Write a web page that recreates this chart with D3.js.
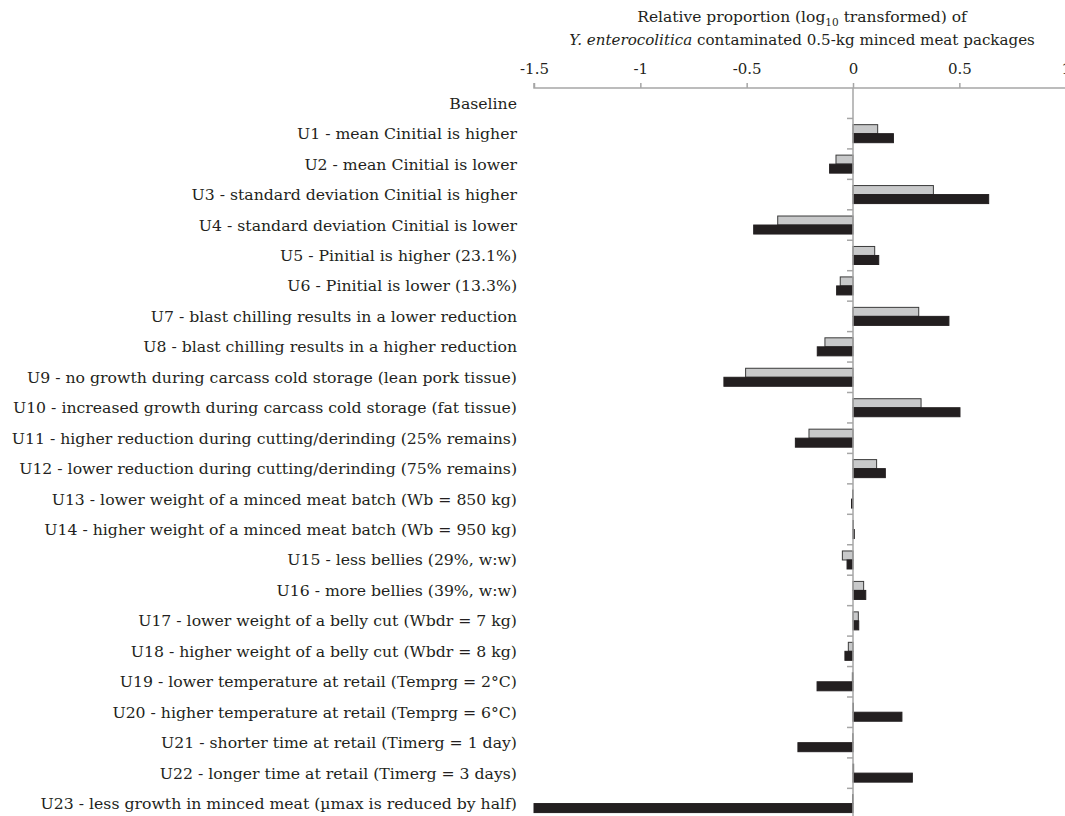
<!DOCTYPE html>
<html>
<head>
<meta charset="utf-8">
<script src="https://cdn.jsdelivr.net/npm/d3@7"></script>
<style>
  body { margin: 0; background: #fff; }
  svg text { font-family: "DejaVu Serif", serif; fill: #231f20; }
</style>
</head>
<body>
<div id="chart"></div>
<script>
const categories = [
  "Baseline",
  "U1 - mean Cinitial is higher",
  "U2 - mean Cinitial is lower",
  "U3 - standard deviation Cinitial is higher",
  "U4 - standard deviation Cinitial is lower",
  "U5 - Pinitial is higher (23.1%)",
  "U6 - Pinitial is lower (13.3%)",
  "U7 - blast chilling results in a lower reduction",
  "U8 - blast chilling results in a higher reduction",
  "U9 - no growth during carcass cold storage (lean pork tissue)",
  "U10 - increased growth during carcass cold storage (fat tissue)",
  "U11 - higher reduction during cutting/derinding (25% remains)",
  "U12 - lower reduction during cutting/derinding (75% remains)",
  "U13 - lower weight of a minced meat batch (Wb = 850 kg)",
  "U14 - higher weight of a minced meat batch (Wb = 950 kg)",
  "U15 - less bellies (29%, w:w)",
  "U16 - more bellies (39%, w:w)",
  "U17 - lower weight of a belly cut (Wbdr = 7 kg)",
  "U18 - higher weight of a belly cut (Wbdr = 8 kg)",
  "U19 - lower temperature at retail (Temprg = 2°C)",
  "U20 - higher temperature at retail (Temprg = 6°C)",
  "U21 - shorter time at retail (Timerg = 1 day)",
  "U22 - longer time at retail (Timerg = 3 days)",
  "U23 - less growth in minced meat (µmax is reduced by half)"
];

// light grey series (upper bar in each row)
const lightValues = [0, 0.116, -0.08, 0.378, -0.354, 0.102, -0.06, 0.309, -0.132, -0.505, 0.32, -0.207, 0.111,
  -0.002, 0.002, -0.05, 0.05, 0.025, -0.022, -0.003, 0.002, -0.001, 0.003, -0.002];
// dark series (lower bar in each row)
const darkValues = [0, 0.19, -0.11, 0.638, -0.467, 0.121, -0.077, 0.451, -0.168, -0.607, 0.503, -0.271, 0.152,
  -0.007, 0.006, -0.028, 0.06, 0.027, -0.038, -0.169, 0.23, -0.259, 0.279, -1.5];

const xTicks = [-1.5, -1, -0.5, 0, 0.5, 1];

const width = 1065, height = 816;
const margin = {top: 88, left: 534};

const svg = d3.select("#chart").append("svg")
  .attr("width", width)
  .attr("height", height);

const x = d3.scaleLinear()
  .domain([-1.5, 1])
  .range([margin.left, margin.left + 2.5 * 212.67]);

const y = d3.scaleBand()
  .domain(categories)
  .range([margin.top, margin.top + 24 * 30.45]);

const series = ["light", "dark"];
const y1 = d3.scaleBand()
  .domain(series)
  .range([0, y.bandwidth()])
  .paddingOuter(0.69);

const rows = categories.map((c, i) => ({cat: c, light: lightValues[i], dark: darkValues[i]}));

// bars
const g = svg.append("g");
rows.forEach(r => {
  series.forEach(s => {
    const v = r[s];
    g.append("rect")
      .attr("x", x(Math.min(0, v)))
      .attr("y", y(r.cat) + y1(s))
      .attr("width", Math.abs(x(v) - x(0)))
      .attr("height", y1.bandwidth())
      .attr("fill", s === "light" ? "#c8c9ca" : "#231f20")
      .attr("stroke", s === "light" ? "#3a3a3a" : "#231f20")
      .attr("stroke-width", 1);
  });
});

// top value axis
const xAxis = svg.append("g")
  .attr("transform", `translate(0,${margin.top})`)
  .call(d3.axisTop(x).tickValues(xTicks).tickSize(5).tickPadding(9).tickFormat(d => String(d)));
xAxis.select(".domain").attr("stroke", "#a6a6a6").attr("stroke-width", 1.5)
  .attr("d", `M${margin.left},-5V0H${width}`);
xAxis.selectAll(".tick line").attr("stroke", "#a6a6a6").attr("stroke-width", 1.5);
xAxis.selectAll(".tick text").style("font-size", "15px").attr("fill", "#231f20");

// category axis on zero line
const bounds = categories.slice(1).map(c => y(c)).concat([y.range()[1]]);
svg.append("g").selectAll("line").data(bounds).join("line")
  .attr("x1", x(0) - 6).attr("x2", x(0))
  .attr("y1", d => d).attr("y2", d => d)
  .attr("stroke", "#a6a6a6").attr("stroke-width", 1.5);
svg.append("line")
  .attr("x1", x(0)).attr("x2", x(0))
  .attr("y1", margin.top).attr("y2", y.range()[1])
  .attr("stroke", "#a6a6a6").attr("stroke-width", 1.5);

// category labels
svg.append("g").attr("class", "labels").selectAll("text").data(categories).join("text")
  .attr("x", 517)
  .attr("y", d => y(d) + y.bandwidth() / 2)
  .attr("dy", "0.35em")
  .attr("text-anchor", "end")
  .style("font-size", "15.7px")
  .text(d => d);

// title
const title = svg.append("text")
  .attr("text-anchor", "middle")
  .attr("x", 802).attr("y", 22)
  .style("font-size", "15.5px")
  .style("font-weight", 500);
title.append("tspan").text("Relative proportion (log");
title.append("tspan").attr("dy", 4).style("font-size", "10.5px").text("10");
title.append("tspan").attr("dy", -4).text(" transformed) of");
const t2 = svg.append("text").attr("text-anchor", "middle").attr("x", 802).attr("y", 45)
  .style("font-size", "15.1px");
t2.append("tspan").style("font-style", "italic").text("Y. enterocolitica");
t2.append("tspan").text(" contaminated 0.5-kg minced meat packages");
</script>
</body>
</html>
